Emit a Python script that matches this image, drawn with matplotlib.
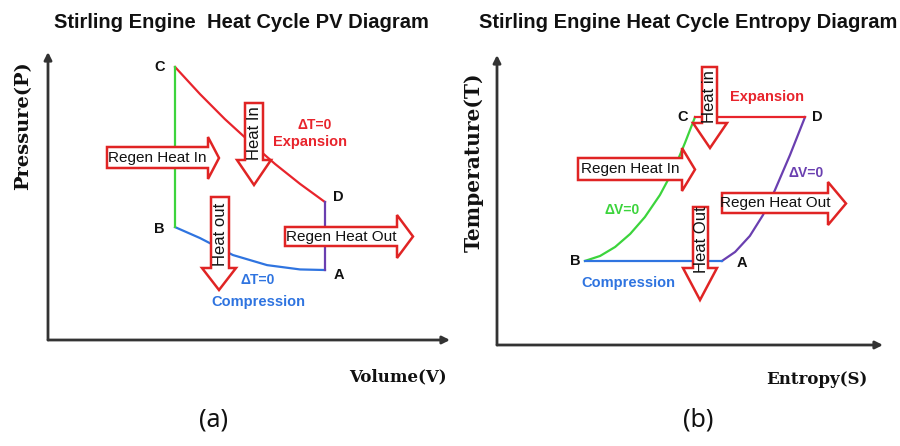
import matplotlib
matplotlib.use("Agg")
import matplotlib.pyplot as plt
from matplotlib.patches import Polygon

# ---------------- data (arbitrary units, 0..10 on both axes) ----------------
# PV diagram
pv_CD_V = [3.16, 3.78, 4.40, 5.02, 5.65, 6.27, 6.89]   # isothermal expansion
pv_CD_P = [9.48, 8.54, 7.67, 6.88, 6.11, 5.42, 4.79]
pv_BA_V = [3.16, 3.78, 4.60, 5.45, 6.27, 6.89]         # isothermal compression
pv_BA_P = [3.92, 3.54, 2.95, 2.60, 2.45, 2.43]
pv_BC_V = [3.16, 3.16]                                  # constant volume (regen in)
pv_BC_P = [3.92, 9.48]
pv_DA_V = [6.89, 6.89]                                  # constant volume (regen out)
pv_DA_P = [4.79, 2.43]
pv_point_names = ["C", "B", "D", "A"]

# TS diagram
ts_BC_S = [2.28, 2.67, 3.06, 3.45, 3.83, 4.22, 4.61, 4.87, 5.13]
ts_BC_T = [2.90, 3.07, 3.38, 3.83, 4.41, 5.17, 6.14, 6.97, 7.86]
ts_AD_S = [5.83, 6.17, 6.55, 6.89, 7.20, 7.59, 7.98]
ts_AD_T = [2.90, 3.21, 3.76, 4.48, 5.34, 6.55, 7.86]
ts_CD_S = [5.13, 7.98]
ts_CD_T = [7.86, 7.86]
ts_BA_S = [2.28, 5.83]
ts_BA_T = [2.90, 2.90]

RED = "#e8242c"
GREEN = "#3cd43c"
BLUE = "#2f74e0"
PURPLE = "#6a3fb0"
ARROW_RED = "#e02424"
AX = "#333333"

W, H = 900, 446
fig = plt.figure(figsize=(9, 4.46), dpi=100)
fig.patch.set_facecolor("white")


def panel(x0, x1, ytop, ybot):
    ax = fig.add_axes([x0 / W, (H - ybot) / H, (x1 - x0) / W, (ybot - ytop) / H])
    ax.set_xlim(0, 10)
    ax.set_ylim(0, 10)
    ax.axis("off")
    for end in [(0, 1), (1, 0)]:
        ax.annotate("", xy=end, xytext=(0, 0), xycoords="axes fraction",
                    textcoords="axes fraction",
                    arrowprops=dict(arrowstyle="-|>", lw=2.0, color=AX,
                                    mutation_scale=11, shrinkA=0, shrinkB=0))
    return ax


axL = panel(48, 450, 52, 340)
axR = panel(497, 883, 55, 345)

lw = 1.6
axL.plot(pv_CD_V, pv_CD_P, color=RED, lw=lw)
axL.plot(pv_BA_V, pv_BA_P, color=BLUE, lw=lw)
axL.plot(pv_BC_V, pv_BC_P, color=GREEN, lw=lw)
axL.plot(pv_DA_V, pv_DA_P, color=PURPLE, lw=lw)

axR.plot(ts_BC_S, ts_BC_T, color=GREEN, lw=lw)
axR.plot(ts_AD_S, ts_AD_T, color=PURPLE, lw=lw)
axR.plot(ts_CD_S, ts_CD_T, color=RED, lw=lw)
axR.plot(ts_BA_S, ts_BA_T, color=BLUE, lw=lw)

# ---------------- overlay in pixel coordinates for annotations ----------------
ov = fig.add_axes([0, 0, 1, 1])
ov.set_xlim(0, W)
ov.set_ylim(H, 0)
ov.axis("off")
ov.patch.set_alpha(0)

SANS = ["Liberation Sans", "DejaVu Sans"]
SERIF = ["DejaVu Serif"]


def harrow(x0, x1, st, sb, ht, hb, tip, label, fs=11):
    mid = (ht + hb) / 2
    pts = [(x0, st), (x1, st), (x1, ht), (tip, mid), (x1, hb), (x1, sb), (x0, sb)]
    ov.add_patch(Polygon(pts, closed=True, facecolor="white", edgecolor=ARROW_RED,
                         lw=1.8, joinstyle="miter", zorder=5))
    ov.text((x0 + x1) / 2, (st + sb) / 2 + 0.5, label, ha="center", va="center",
            fontsize=fs, family=SANS, color="#111111", zorder=6)


def varrow(xl, xr, top, hs, hl, hr, tip, label, fs=12):
    mid = (hl + hr) / 2
    pts = [(xl, top), (xr, top), (xr, hs), (hr, hs), (mid, tip), (hl, hs), (xl, hs)]
    ov.add_patch(Polygon(pts, closed=True, facecolor="white", edgecolor=ARROW_RED,
                         lw=1.8, joinstyle="miter", zorder=5))
    ov.text((xl + xr) / 2 + 0.5, (top + hs) / 2 + 2, label, ha="center", va="center",
            rotation=90, fontsize=fs, family=SANS, color="#111111", zorder=6)


# left panel arrows
harrow(107, 208, 147, 168, 137, 179, 219, "Regen Heat In")
varrow(245, 263, 103, 160, 237, 271, 185, "Heat In")
varrow(211, 229, 197, 268, 202, 236, 290, "Heat out")
harrow(285, 397, 227, 246, 215, 258, 413, "Regen Heat Out")

# right panel arrows
varrow(702, 717, 67, 123, 693, 727, 148, "Heat in")
harrow(578, 682, 158, 180, 148, 191, 695, "Regen Heat In")
harrow(722, 828, 193, 213, 182, 225, 846, "Regen Heat Out")
varrow(693, 708, 207, 268, 683, 717, 300, "Heat Out")


def lab(x, y, s, color="#111111", fs=10.5, weight="bold", fam=SANS, **kw):
    ov.text(x, y, s, ha="center", va="center", color=color, fontsize=fs,
            fontweight=weight, family=fam, zorder=7, **kw)


# point labels
for (x, y), s in zip([(160, 67), (159, 229), (338, 197), (339, 275)], pv_point_names):
    lab(x, y, s)
for (x, y), s in zip([(683, 117), (575, 261), (817, 117), (742, 263)], pv_point_names):
    lab(x, y, s)

lab(315, 125, "\u0394T=0", color=RED, fs=10)
lab(310, 142, "Expansion", color=RED, fs=10.5)
lab(258, 280, "\u0394T=0", color=BLUE, fs=10)
lab(258, 302, "Compression", color=BLUE, fs=10.5)

lab(767, 97, "Expansion", color=RED, fs=10.5)
lab(806, 173, "\u0394V=0", color=PURPLE, fs=10)
lab(622, 210, "\u0394V=0", color=GREEN, fs=10)
lab(628, 283, "Compression", color=BLUE, fs=10.5)

# titles
lab(241, 23, "Stirling Engine  Heat Cycle PV Diagram", fs=14.5)
lab(688, 23, "Stirling Engine Heat Cycle Entropy Diagram", fs=14.5)

# axis labels
lab(23, 126, "Pressure(P)", fs=14, fam=SERIF, rotation=90)
lab(398, 377, "Volume(V)", fs=12, fam=SERIF)
lab(474, 162, "Temperature(T)", fs=14.5, fam=SERIF, rotation=90)
lab(817, 380, "Entropy(S)", fs=12, fam=SERIF)

# panel tags
lab(213, 420, "(a)", fs=18, weight="normal", fam=["Noto Sans"])
lab(698, 420, "(b)", fs=18, weight="normal", fam=["Noto Sans"])

fig.savefig("out.png", dpi=100, facecolor="white")
